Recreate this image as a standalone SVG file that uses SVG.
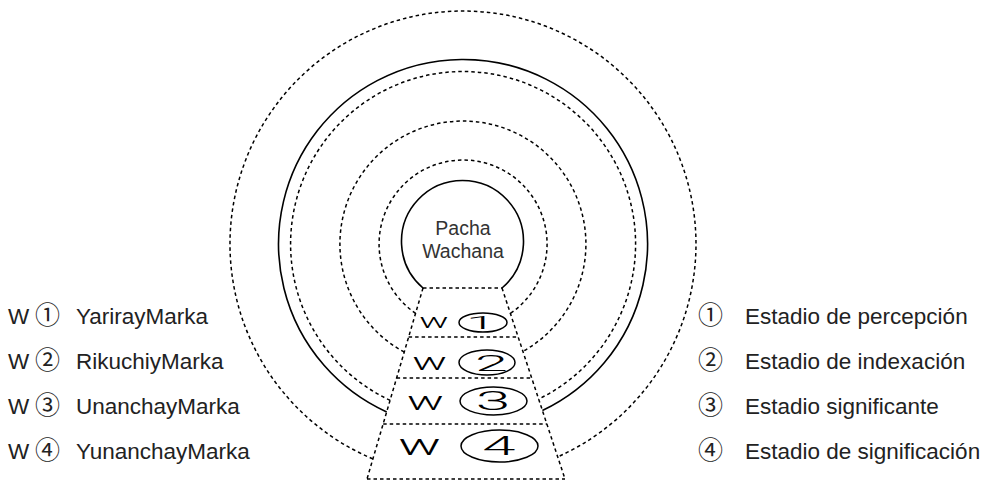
<svg xmlns="http://www.w3.org/2000/svg" width="994" height="480" viewBox="0 0 994 480">
<style>
.bg{fill:#fff}
.solid{fill:none;stroke:#000;stroke-width:1.6}
.dash{fill:none;stroke:#000;stroke-width:1.5;stroke-dasharray:3.5 3}
.lbl{font-family:"Liberation Sans",Arial,sans-serif;font-size:22.5px;fill:#222}
.pw{font-family:"Liberation Sans",Arial,sans-serif;font-size:19.5px;fill:#333;text-anchor:middle}
.cj{font-family:"Noto Sans CJK JP","DejaVu Sans",sans-serif;font-size:25px}
.cell{font-family:Roboto,"Liberation Sans",Arial,sans-serif;font-weight:300;fill:#000;text-anchor:middle}
.ell{fill:none;stroke:#000;stroke-width:1.5}
</style>
<rect class="bg" x="0" y="0" width="994" height="480"/>
<g id="rings">
<path class="dash" d="M372.9,458.9 A233,233 0 1 1 557.7,456.9"/>
<path class="solid" d="M386.7,411.9 A184.5,184.5 0 1 1 542.4,410.5"/>
<path class="dash" d="M390.1,400.3 A172.5,172.5 0 1 1 538.6,399.1"/>
<path class="dash" d="M404.2,352.1 A123,123 0 1 1 522.9,351.4"/>
<path class="dash" d="M415.6,313.3 A84,84 0 1 1 510.4,313.4"/>
</g>
<g id="pacha-wachana">
<path class="solid" d="M423,288 A61,61 0 1 1 502,288"/>
<text class="pw" x="463" y="235">Pacha</text>
<text class="pw" x="463" y="258">Wachana</text>
</g>
<g id="connectors">
<path class="dash" d="M423,288 L367,479 M502,288 L565,479 M423,288 H502 M408.6,337 H518.2 M396.6,378 H531.7 M383.2,424 H546.9 M367,479 H565"/>
</g>
<g id="stage-1">
<text class="cell" font-size="21" transform="translate(434,328) scale(1.85,1)">w</text>
<ellipse class="ell" cx="483" cy="322.5" rx="24" ry="9.5"/>
<text class="cell" font-size="18" transform="translate(481,329) scale(3,1)">1</text>
</g>
<g id="stage-2">
<text class="cell" font-size="23" transform="translate(429.5,370) scale(2,1)">w</text>
<ellipse class="ell" cx="487" cy="362.5" rx="28" ry="12.5"/>
<text class="cell" font-size="22" transform="translate(491.5,371) scale(2.7,1)">2</text>
</g>
<g id="stage-3">
<text class="cell" font-size="25" transform="translate(425.5,410) scale(1.95,1)">w</text>
<ellipse class="ell" cx="493.5" cy="401" rx="33.5" ry="14"/>
<text class="cell" font-size="25" transform="translate(493,410) scale(2.5,1)">3</text>
</g>
<g id="stage-4">
<text class="cell" font-size="29" transform="translate(419.5,455) scale(1.95,1)">w</text>
<ellipse class="ell" cx="499.5" cy="446" rx="38.5" ry="16"/>
<text class="cell" font-size="25" transform="translate(499,455) scale(2.4,1)">4</text>
</g>
<g id="legend-left">
<text class="lbl" y="324"><tspan x="8">W</tspan><tspan class="cj" x="35">①</tspan><tspan x="76">YarirayMarka</tspan></text>
<text class="lbl" y="369"><tspan x="8">W</tspan><tspan class="cj" x="35">②</tspan><tspan x="76">RikuchiyMarka</tspan></text>
<text class="lbl" y="414"><tspan x="8">W</tspan><tspan class="cj" x="35">③</tspan><tspan x="76">UnanchayMarka</tspan></text>
<text class="lbl" y="459"><tspan x="8">W</tspan><tspan class="cj" x="35">④</tspan><tspan x="76">YunanchayMarka</tspan></text>
</g>
<g id="legend-right">
<text class="lbl" y="324"><tspan class="cj" x="698">①</tspan><tspan x="745">Estadio de percepción</tspan></text>
<text class="lbl" y="369"><tspan class="cj" x="698">②</tspan><tspan x="745">Estadio de indexación</tspan></text>
<text class="lbl" y="414"><tspan class="cj" x="698">③</tspan><tspan x="745">Estadio significante</tspan></text>
<text class="lbl" y="459"><tspan class="cj" x="698">④</tspan><tspan x="745">Estadio de significación</tspan></text>
</g>
</svg>
